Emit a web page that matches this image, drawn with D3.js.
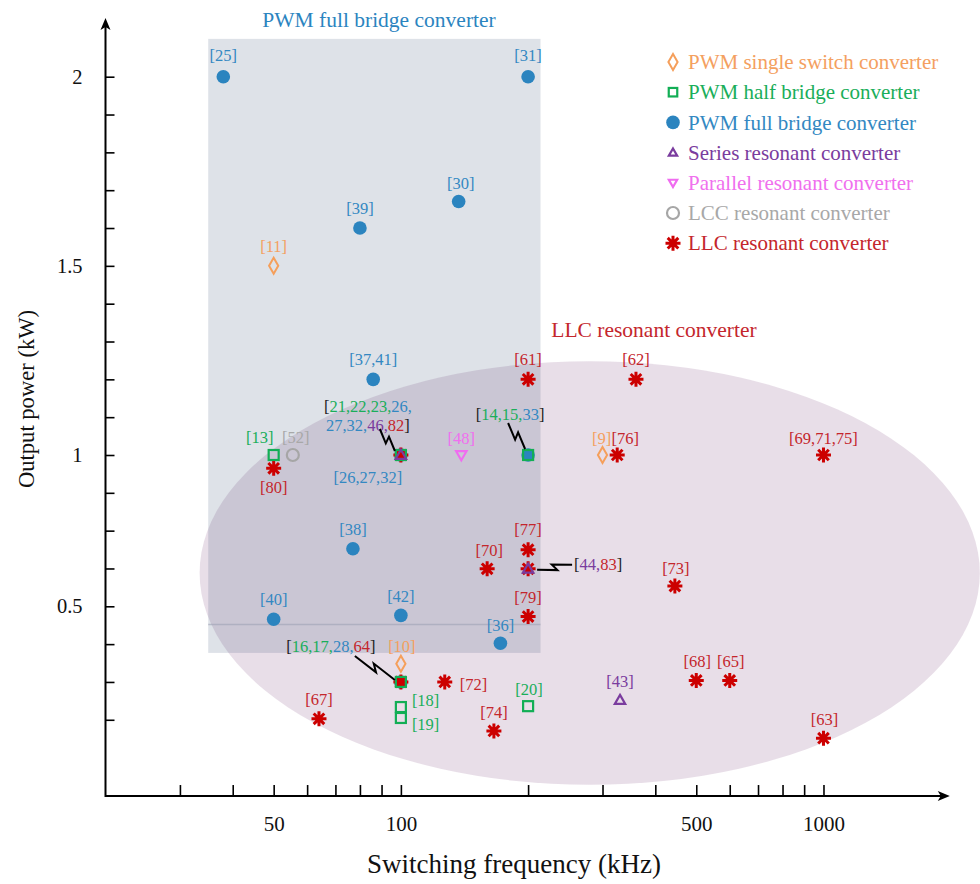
<!DOCTYPE html>
<html>
<head>
<meta charset="utf-8">
<script src="https://cdn.jsdelivr.net/npm/d3@7"></script>
<style>
  body { margin: 0; background: #fff; }
  svg { display: block; }
  text { font-family: "Liberation Serif", "Times New Roman", serif; }
</style>
</head>
<body>
<svg id="chart" width="980" height="884"></svg>
<script>
// ---- data -------------------------------------------------------------
const frequencyTickLabels = [50, 100, 500, 1000];
const frequencyTicks = [30, 40, 50, 60, 70, 80, 90, 100, 200, 300, 400, 500, 600, 700, 800, 900, 1000];
const powerTickLabels = [0.5, 1, 1.5, 2];
const powerTicks = [0, 0.125, 0.25, 0.375, 0.5, 0.625, 0.75, 0.875, 1,
                    1.1, 1.2, 1.3, 1.4, 1.5, 1.6, 1.7, 1.8, 1.9, 2];

// operating points: switching frequency (kHz), output power (kW), reference tag
const pwmSingleSwitch = [
  { f: 50, p: 1.5, ref: "11" },
  { f: 300, p: 1.0, ref: "9" },
  { f: 100, p: 0.31, ref: "10" }
];
const pwmHalfBridge = [
  { f: 50, p: 1.0, ref: "13" },
  { f: 100, p: 1.0, ref: "21,22,23" },
  { f: 200, p: 1.0, ref: "14,15" },
  { f: 100, p: 0.25, ref: "16,17" },
  { f: 100, p: 0.167, ref: "18" },
  { f: 100, p: 0.131, ref: "19" },
  { f: 200, p: 0.17, ref: "20" }
];
const pwmFullBridge = [
  { f: 38, p: 2.0, ref: "25" },
  { f: 200, p: 2.0, ref: "31" },
  { f: 80, p: 1.6, ref: "39" },
  { f: 137, p: 1.67, ref: "30" },
  { f: 86, p: 1.2, ref: "37,41" },
  { f: 100, p: 1.0, ref: "26,27,32" },
  { f: 200, p: 1.0, ref: "33" },
  { f: 77, p: 0.69, ref: "38" },
  { f: 50, p: 0.457, ref: "40" },
  { f: 100, p: 0.47, ref: "42" },
  { f: 172, p: 0.378, ref: "36" },
  { f: 100, p: 0.25, ref: "28" }
];
const seriesResonant = [
  { f: 100, p: 1.0, ref: "46" },
  { f: 200, p: 0.624, ref: "44" },
  { f: 330, p: 0.19, ref: "43" }
];
const parallelResonant = [
  { f: 139, p: 1.0, ref: "48" }
];
const lccResonant = [
  { f: 55.5, p: 1.0, ref: "52" }
];
const llcResonant = [
  { f: 50, p: 0.956, ref: "80" },
  { f: 100, p: 1.0, ref: "82" },
  { f: 200, p: 1.2, ref: "61" },
  { f: 360, p: 1.2, ref: "62" },
  { f: 325, p: 1.0, ref: "76" },
  { f: 1000, p: 1.0, ref: "69,71,75" },
  { f: 200, p: 0.687, ref: "77" },
  { f: 160, p: 0.624, ref: "70" },
  { f: 200, p: 0.624, ref: "83" },
  { f: 445, p: 0.567, ref: "73" },
  { f: 200, p: 0.466, ref: "79" },
  { f: 100, p: 0.25, ref: "64" },
  { f: 127, p: 0.25, ref: "72" },
  { f: 500, p: 0.255, ref: "68" },
  { f: 600, p: 0.255, ref: "65" },
  { f: 64, p: 0.128, ref: "67" },
  { f: 166, p: 0.088, ref: "74" },
  { f: 1000, p: 0.064, ref: "63" }
];

// shaded operating regions (kHz / kW bounds)
const fullBridgeRegion = { fMin: 35, fMax: 214, pMin: 0.346, pMax: 2.10, guideP: 0.44 };
const llcRegion = { fMin: 33.4, fMax: 2344, pMin: -0.09, pMax: 1.248 };

// ---- series styling -----------------------------------------------------
const series = [
  { key: "single",   name: "PWM single switch converter", color: "#f59f5b", text: "#f4a060", symbol: "diamond",  points: pwmSingleSwitch },
  { key: "half",     name: "PWM half bridge converter",   color: "#12ae55", text: "#1aae5a", symbol: "square",   points: pwmHalfBridge },
  { key: "full",     name: "PWM full bridge converter",   color: "#2b84bf", text: "#3388c2", symbol: "disc",     points: pwmFullBridge },
  { key: "series",   name: "Series resonant converter",   color: "#7a3c9e", text: "#7a3c9e", symbol: "triUp",    points: seriesResonant },
  { key: "parallel", name: "Parallel resonant converter", color: "#f06cf0", text: "#f070ee", symbol: "triDown",  points: parallelResonant },
  { key: "lcc",      name: "LCC resonant converter",      color: "#a6a6a6", text: "#a8a8a8", symbol: "ring",     points: lccResonant },
  { key: "llc",      name: "LLC resonant converter",      color: "#cc0000", text: "#c4262c", symbol: "asterisk", points: llcResonant }
];
const seriesByKey = Object.fromEntries(series.map(s => [s.key, s]));
// marker stacking order (first drawn is lowest)
const drawOrder = ["full", "llc", "single", "half", "series", "parallel", "lcc"];

// ---- tag placement (offset of tag centre from its marker, px) ----------
const tagOffsets = {
  "11": [0, -19], "9": [-1, -17], "10": [1, -17],
  "13": [-14, -18],
  "18": [11, -7, "start"], "19": [11, 6, "start"], "20": [1, -17],
  "25": [0, -21], "31": [0, -21], "39": [0, -20], "30": [2, -18], "37,41": [0, -20],
  "26,27,32": [-33, 22], "38": [0, -19], "40": [0, -20], "42": [0, -19], "36": [0, -18],
  "43": [0, -19], "48": [0, -17], "52": [3, -18],
  "80": [0, 19], "61": [0, -20], "62": [0, -20], "76": [8, -17], "69,71,75": [0, -17],
  "77": [0, -20], "70": [2, -18], "73": [1, -18], "79": [0, -19],
  "72": [15, 2, "start"], "67": [0, -19], "74": [0, -19], "68": [1, -19], "65": [1, -19], "63": [1, -19]
};
// tags shared by several converter types at one operating point
const sharedTagLayout = {
  "100|1":    { dx: -33, dy: -49, anchor: "middle", wrapAfter: 4, lead: [[-21, -26], [-6, -4]] },
  "200|1":    { dx: -18, dy: -41, anchor: "middle", lead: [[-20, -32], [-3, -6]] },
  "100|0.25": { dx: -70, dy: -36, anchor: "middle", lead: [[-46, -26], [-6, -2]] },
  "200|0.624":{ dx: 46,  dy: -4,  anchor: "start",  lead: [[9, 1], [44, -4]] }
};

// ---- scales -------------------------------------------------------------
const svg = d3.select("#chart");
const x = d3.scaleLog().domain([20, 2000]).range([105.5, 950.7]);
const y = d3.scaleLinear().domain([0, 0.5, 1, 2]).range([757.6, 606.3, 455, 76.7]);
const pAxisMin = -0.127, pAxisMax = 2.155, fAxisMax = 1990;

// ---- shaded regions -----------------------------------------------------
const ex0 = x(llcRegion.fMin), ex1 = x(llcRegion.fMax);
const ey0 = y(llcRegion.pMax), ey1 = y(llcRegion.pMin);
svg.append("ellipse")
  .attr("cx", (ex0 + ex1) / 2).attr("cy", (ey0 + ey1) / 2)
  .attr("rx", (ex1 - ex0) / 2).attr("ry", (ey1 - ey0) / 2)
  .attr("fill", "rgb(111,49,111)").attr("fill-opacity", 0.16);

svg.append("rect")
  .attr("x", x(fullBridgeRegion.fMin)).attr("y", y(fullBridgeRegion.pMax))
  .attr("width", x(fullBridgeRegion.fMax) - x(fullBridgeRegion.fMin))
  .attr("height", y(fullBridgeRegion.pMin) - y(fullBridgeRegion.pMax))
  .attr("fill", "rgb(49,74,111)").attr("fill-opacity", 0.16);
svg.append("line")
  .attr("x1", x(fullBridgeRegion.fMin)).attr("x2", x(fullBridgeRegion.fMax))
  .attr("y1", y(fullBridgeRegion.guideP)).attr("y2", y(fullBridgeRegion.guideP))
  .attr("stroke", "#9da2b4").attr("stroke-opacity", 0.6).attr("stroke-width", 1.5);

// region titles
svg.append("text").attr("x", 379).attr("y", 27).attr("text-anchor", "middle")
  .attr("font-size", 21.5).attr("fill", "#2b84bf").text("PWM full bridge converter");
svg.append("text").attr("x", 654).attr("y", 337).attr("text-anchor", "middle")
  .attr("font-size", 21.5).attr("fill", "#c4262c").text("LLC resonant converter");

// ---- axes ---------------------------------------------------------------
const x0 = x(20), yBase = y(pAxisMin);
const xAxis = d3.axisBottom(x)
  .tickValues(frequencyTicks)
  .tickFormat(d => frequencyTickLabels.includes(d) ? String(d) : "")
  .tickSizeInner(-11).tickSizeOuter(0).tickPadding(20);
const gx = svg.append("g").attr("transform", `translate(0,${yBase})`).call(xAxis);
gx.select(".domain").remove();
gx.selectAll(".tick line").attr("stroke", "#000").attr("stroke-width", 1.6);
gx.selectAll(".tick text").attr("font-size", 21).attr("fill", "#111")
  .attr("font-family", "Liberation Serif, serif");

const yAxis = d3.axisLeft(y)
  .tickValues(powerTicks)
  .tickFormat(d => powerTickLabels.includes(d) ? String(d) : "")
  .tickSizeInner(-9).tickSizeOuter(0).tickPadding(23);
const gy = svg.append("g").attr("transform", `translate(${x0},0)`).call(yAxis);
gy.select(".domain").remove();
gy.selectAll(".tick").filter(d => d === 0).select("line").remove();
gy.selectAll(".tick line").attr("stroke", "#000").attr("stroke-width", 1.6);
gy.selectAll(".tick text").attr("font-size", 20.5).attr("fill", "#111")
  .attr("font-family", "Liberation Serif, serif");

// axis lines with arrow heads
const xEnd = x(fAxisMax), yEnd = y(pAxisMax);
svg.append("line").attr("x1", x0).attr("x2", xEnd - 6).attr("y1", yBase).attr("y2", yBase)
  .attr("stroke", "#000").attr("stroke-width", 2);
svg.append("line").attr("x1", x0).attr("x2", x0).attr("y1", yBase + 1).attr("y2", yEnd + 6)
  .attr("stroke", "#000").attr("stroke-width", 2);
svg.append("path").attr("d", `M${xEnd},${yBase}L${xEnd - 12},${yBase - 5}L${xEnd - 9},${yBase}L${xEnd - 12},${yBase + 5}Z`).attr("fill", "#000");
svg.append("path").attr("d", `M${x0},${yEnd}L${x0 - 5},${yEnd + 12}L${x0},${yEnd + 9}L${x0 + 5},${yEnd + 12}Z`).attr("fill", "#000");

svg.append("text").attr("x", 514).attr("y", 873).attr("text-anchor", "middle")
  .attr("font-size", 27).attr("fill", "#111").text("Switching frequency (kHz)");
svg.append("text").attr("transform", "translate(34,399) rotate(-90)").attr("text-anchor", "middle")
  .attr("font-size", 22.6).attr("fill", "#111").text("Output power (kW)");

// ---- marker shapes ------------------------------------------------------
function drawMarker(g, symbol, color, scale = 1) {
  const s = scale;
  switch (symbol) {
    case "disc":
      g.append("circle").attr("r", 6.8 * s).attr("fill", color); break;
    case "ring":
      g.append("circle").attr("r", 6 * s).attr("fill", "none").attr("stroke", color).attr("stroke-width", 2.2); break;
    case "square":
      g.append("rect").attr("x", -5 * s).attr("y", -5 * s).attr("width", 10 * s).attr("height", 10 * s)
        .attr("fill", "none").attr("stroke", color).attr("stroke-width", 2.2); break;
    case "diamond":
      g.append("path").attr("d", `M0,${-8 * s}L${4.6 * s},0L0,${8 * s}L${-4.6 * s},0Z`)
        .attr("fill", "none").attr("stroke", color).attr("stroke-width", 2); break;
    case "triUp":
      g.append("path").attr("d", `M0,${-5.2 * s}L${5.2 * s},${3.8 * s}L${-5.2 * s},${3.8 * s}Z`)
        .attr("fill", "none").attr("stroke", color).attr("stroke-width", 2.2); break;
    case "triDown":
      g.append("path").attr("d", `M0,${5.2 * s}L${5.2 * s},${-3.8 * s}L${-5.2 * s},${-3.8 * s}Z`)
        .attr("fill", "none").attr("stroke", color).attr("stroke-width", 2.2); break;
    case "asterisk": {
      const r = 7.5 * s, d = r * Math.SQRT1_2;
      g.append("path").attr("d", `M${-r},0H${r}M0,${-r}V${r}M${-d},${-d}L${d},${d}M${-d},${d}L${d},${-d}`)
        .attr("stroke", color).attr("stroke-width", 3).attr("stroke-linecap", "butt"); break;
    }
  }
}

// ---- markers ------------------------------------------------------------
const markers = svg.append("g");
drawOrder.forEach(k => {
  const s = seriesByKey[k];
  s.points.forEach(pt => {
    const g = markers.append("g").attr("transform", `translate(${x(pt.f)},${y(pt.p)})`);
    drawMarker(g, s.symbol, s.color);
  });
});

// ---- reference tags -----------------------------------------------------
const tags = svg.append("g").attr("font-size", 16.5);
series.forEach(s => {
  s.points.forEach(pt => {
    const off = tagOffsets[pt.ref];
    if (!off) return;
    tags.append("text")
      .attr("x", x(pt.f) + off[0]).attr("y", y(pt.p) + off[1]).attr("dy", "0.34em")
      .attr("text-anchor", off[2] || "middle").attr("fill", s.text)
      .text(`[${pt.ref}]`);
  });
});

// group the points that share one operating point across converter types
const shared = new Map();
series.forEach(s => s.points.forEach(pt => {
  const key = `${pt.f}|${pt.p}`;
  if (!shared.has(key)) shared.set(key, []);
  shared.get(key).push({ s, pt });
}));

function bolt(x1, y1, x2, y2) {
  const dx = x2 - x1, dy = y2 - y1, L = Math.hypot(dx, dy);
  const nx = -dy / L, ny = dx / L, k = 3.2;
  const a = [x1 + dx * 0.57 + nx * k, y1 + dy * 0.57 + ny * k];
  const b = [x1 + dx * 0.43 - nx * k, y1 + dy * 0.43 - ny * k];
  return `M${x1},${y1}L${a[0]},${a[1]}L${b[0]},${b[1]}L${x2},${y2}`;
}

shared.forEach((items, key) => {
  const layout = sharedTagLayout[key];
  if (!layout || items.length < 2) return;
  const px = x(items[0].pt.f), py = y(items[0].pt.p);
  // tokens: each reference number coloured by its converter type
  const tokens = [];
  items.forEach(({ s, pt }) => pt.ref.split(",").forEach(r => tokens.push({ t: r, c: s.text })));
  const lines = layout.wrapAfter ? [tokens.slice(0, layout.wrapAfter), tokens.slice(layout.wrapAfter)] : [tokens];
  lines.forEach((line, li) => {
    const txt = tags.append("text")
      .attr("x", px + layout.dx).attr("y", py + layout.dy + li * 19.5).attr("dy", "0.34em")
      .attr("text-anchor", layout.anchor);
    if (li === 0) txt.append("tspan").attr("fill", "#222").text("[");
    line.forEach((tk, i) => {
      const last = li === lines.length - 1 && i === line.length - 1;
      txt.append("tspan").attr("fill", tk.c).text(tk.t + (last ? "" : ","));
    });
    if (li === lines.length - 1) txt.append("tspan").attr("fill", "#222").text("]");
  });
  const [[ax, ay], [bx, by]] = layout.lead;
  svg.append("path").attr("d", bolt(px + ax, py + ay, px + bx, py + by))
    .attr("fill", "none").attr("stroke", "#000").attr("stroke-width", 2).attr("stroke-linejoin", "miter");
});

// ---- legend -------------------------------------------------------------
const legend = svg.append("g").attr("transform", "translate(673,62)");
series.forEach((s, i) => {
  const row = legend.append("g").attr("transform", `translate(0,${i * 30.2})`);
  const m = row.append("g");
  const scale = s.symbol === "triUp" || s.symbol === "triDown" ? 0.8 : (s.symbol === "square" ? 0.85 : 1);
  drawMarker(m, s.symbol, s.color, scale);
  row.append("text").attr("x", 15).attr("dy", "0.34em").attr("font-size", 21)
    .attr("fill", s.text).text(s.name);
});
</script>
</body>
</html>
